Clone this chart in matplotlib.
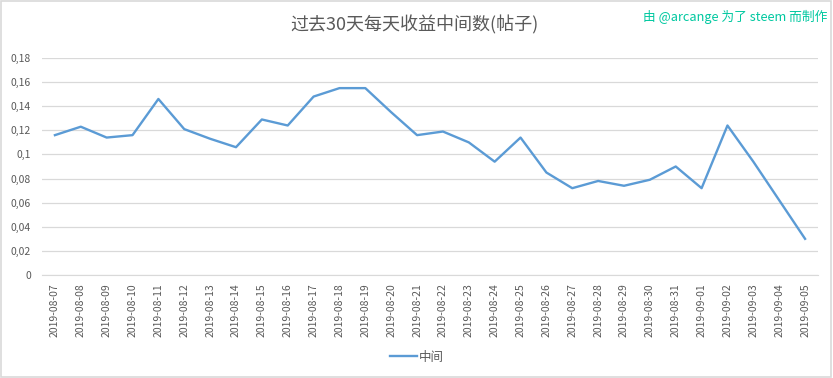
import matplotlib
matplotlib.use("Agg")
import matplotlib.pyplot as plt
from matplotlib.patches import Rectangle

plt.rcParams['font.family'] = ['Noto Sans CJK SC', 'DejaVu Sans']

# Daily median payout (posts), last 30 days
dates = ["2019-08-07", "2019-08-08", "2019-08-09", "2019-08-10", "2019-08-11",
         "2019-08-12", "2019-08-13", "2019-08-14", "2019-08-15", "2019-08-16",
         "2019-08-17", "2019-08-18", "2019-08-19", "2019-08-20", "2019-08-21",
         "2019-08-22", "2019-08-23", "2019-08-24", "2019-08-25", "2019-08-26",
         "2019-08-27", "2019-08-28", "2019-08-29", "2019-08-30", "2019-08-31",
         "2019-09-01", "2019-09-02", "2019-09-03", "2019-09-04", "2019-09-05"]
median = [0.116, 0.123, 0.114, 0.116, 0.146, 0.121, 0.113, 0.106, 0.129, 0.124,
          0.148, 0.155, 0.155, 0.135, 0.116, 0.119, 0.110, 0.094, 0.114, 0.085,
          0.072, 0.078, 0.074, 0.079, 0.090, 0.072, 0.124, 0.094, 0.062, 0.030]
yticks = [0, 0.02, 0.04, 0.06, 0.08, 0.1, 0.12, 0.14, 0.16, 0.18]
ytick_labels = ["0", "0,02", "0,04", "0,06", "0,08", "0,1", "0,12", "0,14", "0,16", "0,18"]

fig = plt.figure(figsize=(8.33, 3.78), dpi=100)
ax = fig.add_axes([0.0504, 0.2725, 0.9316, 0.5741])

x = range(len(dates))
ax.plot(x, median, color='#5B9BD5', linewidth=1.7, label="中间")

ax.set_xlim(-0.5, len(dates) - 0.5)
ax.set_ylim(0, 0.18)
ax.set_yticks(yticks)
ax.set_yticklabels(ytick_labels)
ax.set_xticks(list(x))
ax.set_xticklabels(dates, rotation=90)
ax.tick_params(axis='both', length=0, colors='#595959', labelsize=7.5)
ax.tick_params(axis='y', pad=8)
ax.tick_params(axis='x', pad=6)
ax.grid(axis='y', color='#d9d9d9', linewidth=0.9)
ax.set_axisbelow(True)
for s in ax.spines.values():
    s.set_visible(False)
ax.spines['bottom'].set_visible(True)
ax.spines['bottom'].set_color('#d9d9d9')

fig.text(0.498, 0.935, "过去30天每天收益中间数(帖子)", ha='center', va='center',
         fontsize=13, color='#595959')
fig.text(0.993, 0.955, "由 @arcange 为了 steem 而制作", ha='right', va='center',
         fontsize=9.2, color='#00c8a0')

fig.legend(loc='center', bbox_to_anchor=(0.5, 0.055), frameon=False,
           fontsize=9, handlelength=2.2, handletextpad=0.1,
           labelcolor='#595959')

fig.patches.append(Rectangle((0.001, 0.002), 0.997, 0.995, transform=fig.transFigure,
                             fill=False, edgecolor='#d9d9d9', linewidth=1.2))

fig.savefig("out.png", dpi=100)
